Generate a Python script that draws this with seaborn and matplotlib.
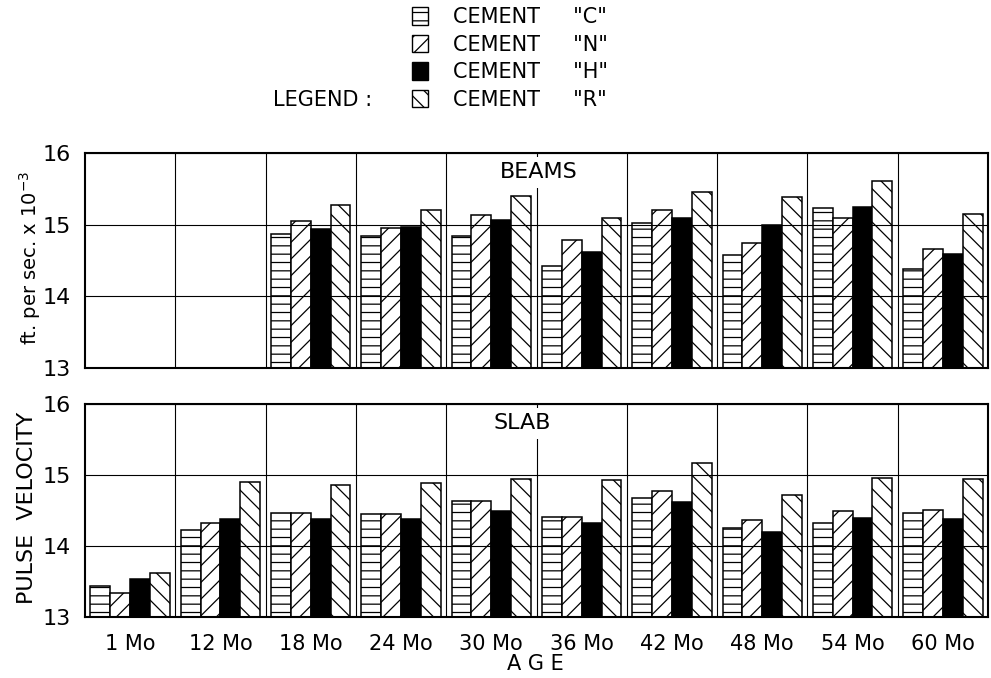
import numpy as np
import pandas as pd
import matplotlib
matplotlib.use("Agg")
import matplotlib.pyplot as plt
import seaborn as sns
from matplotlib.patches import Patch
from matplotlib.ticker import FixedLocator

# ---------------- data ----------------
ages = ["1 Mo", "12 Mo", "18 Mo", "24 Mo", "30 Mo", "36 Mo", "42 Mo", "48 Mo", "54 Mo", "60 Mo"]
cements = ["C", "N", "H", "R"]
y_ticks = [13, 14, 15, 16]

beams_C = [np.nan, np.nan, 14.87, 14.84, 14.84, 14.43, 15.03, 14.57, 15.23, 14.38]
beams_N = [np.nan, np.nan, 15.05, 14.95, 15.13, 14.78, 15.20, 14.74, 15.10, 14.66]
beams_H = [np.nan, np.nan, 14.94, 14.97, 15.06, 14.62, 15.09, 14.99, 15.24, 14.59]
beams_R = [np.nan, np.nan, 15.28, 15.21, 15.40, 15.10, 15.46, 15.38, 15.61, 15.15]

slab_C = [13.44, 14.22, 14.47, 14.45, 14.64, 14.41, 14.67, 14.26, 14.33, 14.47]
slab_N = [13.34, 14.32, 14.47, 14.45, 14.64, 14.41, 14.77, 14.37, 14.49, 14.51]
slab_H = [13.53, 14.38, 14.38, 14.38, 14.49, 14.33, 14.62, 14.20, 14.39, 14.38]
slab_R = [13.62, 14.90, 14.86, 14.89, 14.94, 14.93, 15.17, 14.72, 14.96, 14.94]


def to_long(series):
    rows = []
    for cem, vals in zip(cements, series):
        for age, v in zip(ages, vals):
            rows.append({"Age": age, "Cement": cem, "Velocity": v})
    return pd.DataFrame(rows).dropna()


beams_df = to_long([beams_C, beams_N, beams_H, beams_R])
slab_df = to_long([slab_C, slab_N, slab_H, slab_R])

# ---------------- style ----------------
sns.set_style("white")
plt.rcParams["font.family"] = ["DejaVu Sans"]
plt.rcParams["hatch.linewidth"] = 0.9
plt.rcParams["hatch.color"] = "black"
plt.rcParams["text.color"] = "black"
plt.rcParams["xtick.color"] = "black"
plt.rcParams["ytick.color"] = "black"
plt.rcParams["axes.labelcolor"] = "black"

palette = {"C": "white", "N": "white", "H": "black", "R": "white"}
hatches = {"C": "--", "N": "//", "H": "", "R": "\\\\"}

fig = plt.figure(figsize=(9.91, 6.78), dpi=100)
ax_top = fig.add_axes([85 / 991, 1 - 368 / 678, 903 / 991, 215 / 678])
ax_bot = fig.add_axes([85 / 991, 1 - 617 / 678, 903 / 991, 213 / 678])

panels = [
    (ax_top, beams_df, "BEAMS", 4.53),
    (ax_bot, slab_df, "SLAB", 4.34),
]

for ax, df, title, tx in panels:
    sns.barplot(data=df, x="Age", y="Velocity", hue="Cement", order=ages,
                hue_order=cements, palette=palette, width=0.88,
                edgecolor="black", linewidth=1.1, errorbar=None,
                legend=False, ax=ax)
    for cont, cem in zip(ax.containers, cements):
        for bar in cont:
            bar.set_hatch(hatches[cem])
            bar.set_edgecolor("black")
    ax.set_xlim(-0.5, len(ages) - 0.5)
    ax.set_ylim(13, 16)
    ax.set_yticks(y_ticks)
    ax.set_yticklabels([str(t) for t in y_ticks], fontsize=16)
    ax.xaxis.set_minor_locator(FixedLocator(np.arange(0.5, len(ages) - 0.5, 1)))
    ax.grid(which="minor", axis="x", color="black", lw=0.8)
    ax.grid(which="major", axis="y", color="black", lw=0.8)
    ax.grid(which="major", axis="x", visible=False)
    ax.set_axisbelow(False)
    ax.tick_params(which="both", length=0, colors="black")
    ax.tick_params(axis="y", pad=10)
    ax.set_xlabel("")
    ax.set_ylabel("")
    for sp in ax.spines.values():
        sp.set_visible(True)
        sp.set_color("black")
        sp.set_linewidth(1.5)
    ax.text(tx, 15.73, title, ha="center", va="center", fontsize=16,
            color="black",
            bbox=dict(facecolor="white", edgecolor="none", pad=4), zorder=5)

ax_top.set_xticklabels([])
ax_bot.set_xticks(range(len(ages)))
ax_bot.set_xticklabels(ages, fontsize=15)
ax_bot.tick_params(axis="x", pad=12)

fig.text(535 / 991, 1 - 664 / 678, "A G E", ha="center", va="center", fontsize=15)
fig.text(27 / 991, 1 - 508 / 678, "PULSE  VELOCITY", rotation=90,
         ha="center", va="center", fontsize=16)
fig.text(30 / 991, 1 - 258 / 678, "ft. per sec. x 10$^{-3}$", rotation=90,
         ha="center", va="center", fontsize=14)

# legend
fig.text(273 / 991, 1 - 100 / 678, "LEGEND :", ha="left", va="center", fontsize=15)
handles = [Patch(facecolor=palette[c], edgecolor="black", hatch=hatches[c], linewidth=1.0)
           for c in cements]
labels = ['CEMENT     "%s"' % c for c in cements]
leg = fig.legend(handles, labels, loc="upper left", bbox_to_anchor=(410 / 991, 1 - 5 / 678),
                 frameon=False, fontsize=15, handlelength=0.75, handleheight=0.9,
                 handletextpad=1.2, labelspacing=0.36, borderpad=0.1, borderaxespad=0)
for t in leg.get_texts():
    t.set_color("black")

fig.savefig("out.png", dpi=100)
